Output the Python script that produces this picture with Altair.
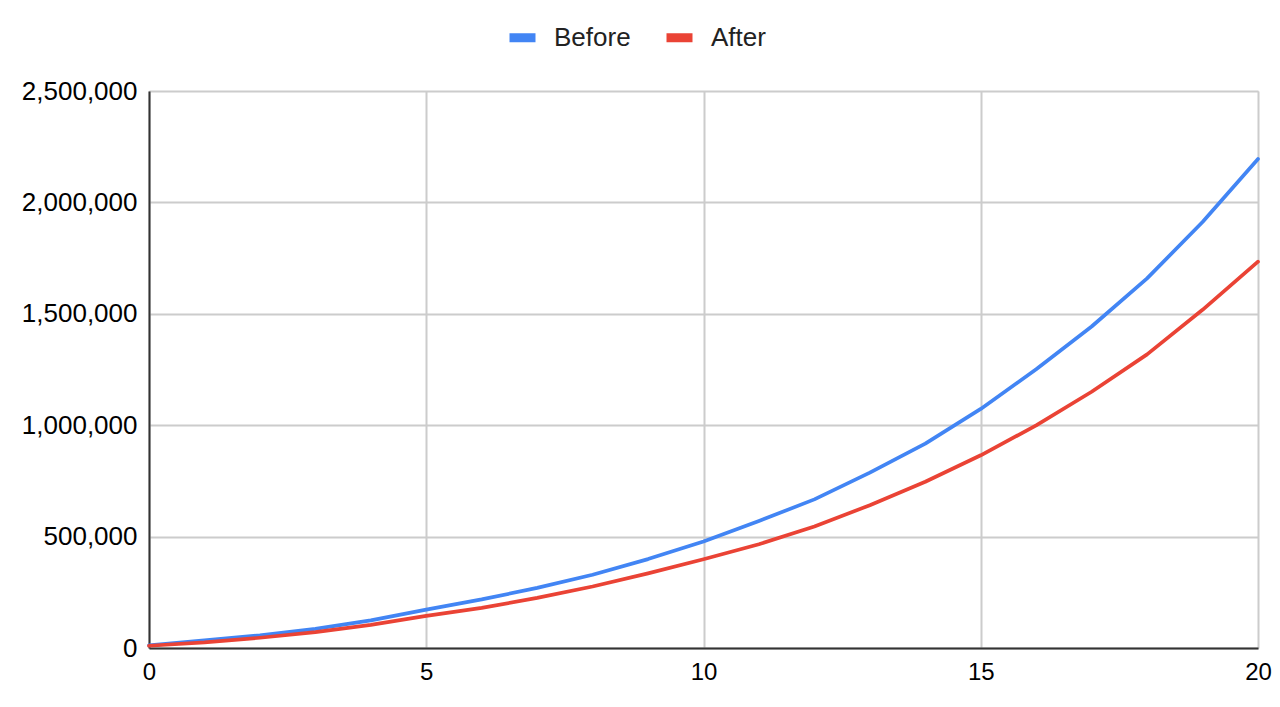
import altair as alt
import pandas as pd

years = list(range(21))
before = [12000, 34000, 57000, 86000, 124000, 172000, 218000, 270000, 329000, 399000,
          478000, 570000, 667000, 787000, 917000, 1073000, 1251000, 1443000, 1659000,
          1912000, 2195000]
after = [10000, 25000, 46000, 71000, 104000, 144000, 180000, 225000, 276000, 335000,
         398000, 466000, 545000, 641000, 746000, 865000, 999000, 1150000, 1318000,
         1518000, 1734000]
series_names = ["Before", "After"]
series_colors = ["#4285F4", "#EA4335"]
x_ticks = [0, 5, 10, 15, 20]
y_ticks = [0, 500000, 1000000, 1500000, 2000000, 2500000]

rows = []
for i, y in enumerate(years):
    rows.append({"year": y, "series": "Before", "value": before[i], "ord": 0})
for i, y in enumerate(years):
    rows.append({"year": y, "series": "After", "value": after[i], "ord": 1})
df = pd.DataFrame(rows)

FONT = "Liberation Sans"

chart = alt.Chart(df).mark_line(strokeWidth=3.7, strokeCap="round", strokeJoin="round").encode(
    x=alt.X("year:Q",
            scale=alt.Scale(domain=[0, 20], nice=False, zero=False),
            axis=alt.Axis(values=x_ticks, title=None, labelFontSize=24, labelFont=FONT,
                          labelColor="#000000", labelPadding=12, ticks=False,
                          grid=True, gridColor="#cccccc", gridWidth=2,
                          domain=True, domainColor="#333333", domainWidth=2,
                          labelFlush=False)),
    y=alt.Y("value:Q",
            scale=alt.Scale(domain=[0, 2500000], nice=False),
            axis=alt.Axis(values=y_ticks, format=",.0f", title=None, labelFontSize=26,
                          labelFont=FONT, labelColor="#000000", labelPadding=12,
                          ticks=False, grid=True, gridColor="#cccccc", gridWidth=2,
                          domain=True, domainColor="#333333", domainWidth=2)),
    color=alt.Color("series:N",
                    scale=alt.Scale(domain=series_names, range=series_colors),
                    sort=series_names,
                    legend=alt.Legend(title=None, orient="none", direction="horizontal",
                                      legendX=356, legendY=-71, padding=0,
                                      symbolType="stroke",
                                      symbolSize=676, symbolStrokeWidth=9,
                                      labelFontSize=26, labelFont=FONT,
                                      labelColor="#222222", labelOffset=14,
                                      columnPadding=17)),
    order=alt.Order("ord:Q"),
    detail="series:N",
).properties(
    width=1109,
    height=557,
    autosize=alt.AutoSizeParams(type="none"),
    padding={"left": 141, "top": 83, "right": 14, "bottom": 44},
).configure_view(stroke=None).configure(background="white")

chart.save("out.html", embed_options={"renderer": "svg", "actions": False})
